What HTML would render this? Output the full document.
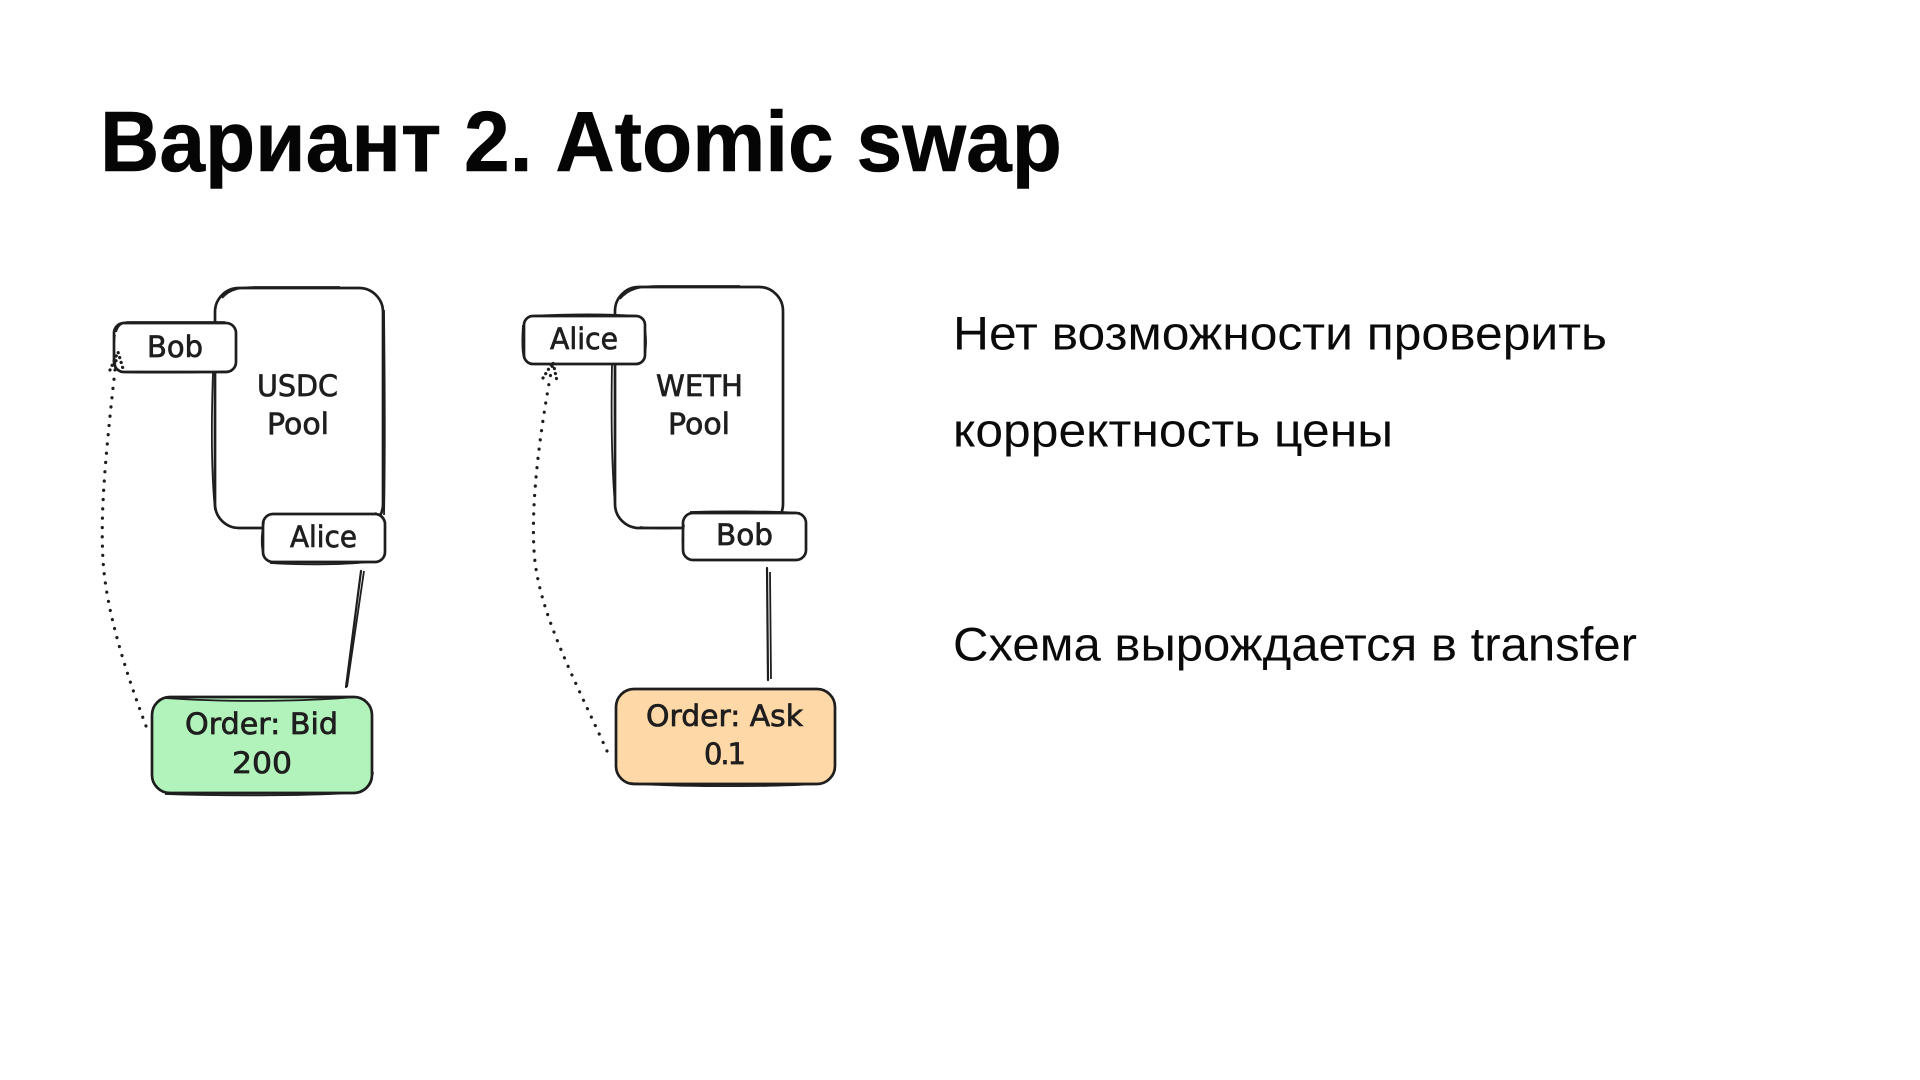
<!DOCTYPE html>
<html lang="ru"><head><meta charset="utf-8"><title>Вариант 2. Atomic swap</title>
<style>
html,body{margin:0;padding:0;background:#fff;width:1920px;height:1080px;overflow:hidden}
svg{display:block}
.h{font-family:"DejaVu Sans",sans-serif;font-size:29px;fill:#1e1e1e;stroke:#1e1e1e;stroke-width:.7}
.b{font-family:"Liberation Sans",sans-serif;font-size:47px;fill:#0a0a0a}
.s{fill:none;stroke:#1e1e1e;stroke-width:2.7;stroke-linecap:round}
.t{fill:none;stroke:#1e1e1e;stroke-width:1.8}
.d{fill:none;stroke:#1e1e1e;stroke-width:3.2;stroke-linecap:round;stroke-dasharray:.1 9.2}
</style></head><body>
<svg width="1920" height="1080" viewBox="0 0 1920 1080" xmlns="http://www.w3.org/2000/svg">
<rect width="1920" height="1080" fill="#fff"/>
<text x="100" y="171" font-family="'Liberation Sans',sans-serif" font-weight="700" font-size="85" fill="#050505" stroke="#050505" stroke-width=".6" textLength="962" lengthAdjust="spacingAndGlyphs">Вариант 2. Atomic swap</text>
<text class="b" x="953" y="349.5" textLength="654" lengthAdjust="spacingAndGlyphs">Нет возможности проверить</text>
<text class="b" x="953" y="446.5" textLength="440" lengthAdjust="spacingAndGlyphs">корректность цены</text>
<text class="b" x="953" y="660.5" textLength="684" lengthAdjust="spacingAndGlyphs">Схема вырождается в transfer</text>

<!-- USDC pool -->
<rect class="s" x="215" y="288" width="168" height="240" rx="24"/>
<path class="t" d="M213 372C211 430 212 480 215 510M384 310C385 400 385 470 384 515M222 298C230 289 240 287 260 287H340"/>
<text class="h" x="257" y="396" textLength="81" lengthAdjust="spacingAndGlyphs">USDC</text>
<text class="h" x="267" y="434" textLength="62" lengthAdjust="spacingAndGlyphs">Pool</text>

<!-- Bob left -->
<rect x="114" y="323" width="122" height="49" rx="10" fill="#fff" stroke="#1e1e1e" stroke-width="2.7"/>
<path class="t" d="M116 332C118 325 122 322 130 322H225M115 335C113 345 114 360 116 368M120 372C150 373 200 373 232 371"/>
<text class="h" x="147" y="357" textLength="56" lengthAdjust="spacingAndGlyphs">Bob</text>

<!-- Alice left -->
<rect x="263" y="514" width="122" height="48" rx="10" fill="#fff" stroke="#1e1e1e" stroke-width="2.7"/>
<path class="t" d="M264 522C261 535 261 548 264 556M270 563C300 565 340 565 368 562M375 513C380 515 384 518 385 524"/>
<text class="h" x="290" y="547" textLength="67" lengthAdjust="spacingAndGlyphs">Alice</text>

<!-- Bid connector -->
<path class="s" style="stroke-width:2.2" d="M361 571L346 687"/>
<path class="t" d="M364 571L347 687"/>
<path class="d" d="M146 726C125 670 106 610 103 560C100 510 106 450 117 352"/>
<path class="d" style="stroke-dasharray:.1 5" d="M110 370L118 352L124 372"/>

<!-- Bid -->
<rect x="152" y="697" width="220" height="96" rx="18" fill="#b2f2bb" stroke="#1e1e1e" stroke-width="2.7"/>
<path class="t" d="M165 698C220 702 300 702 355 697M165 794C220 796 300 796 350 793C365 793 371 785 373 772"/>
<text class="h" x="185" y="734" textLength="153" lengthAdjust="spacingAndGlyphs">Order: Bid</text>
<text class="h" x="232" y="773" textLength="60" lengthAdjust="spacingAndGlyphs">200</text>

<!-- WETH pool -->
<rect class="s" x="615" y="287" width="168" height="241" rx="24"/>
<path class="t" d="M612 364C611 420 612 470 615 505M620 299C628 289 640 286 660 286H740M640 527C655 529 670 529 690 527"/>
<text class="h" x="656" y="396" textLength="87" lengthAdjust="spacingAndGlyphs">WETH</text>
<text class="h" x="668" y="434" textLength="62" lengthAdjust="spacingAndGlyphs">Pool</text>

<!-- Alice right -->
<rect x="524" y="316" width="121" height="48" rx="9" fill="#fff" stroke="#1e1e1e" stroke-width="2.7"/>
<path class="t" d="M530 316C570 314 610 314 638 316M523 325C522 340 522 352 524 358C526 362 530 364 535 364M645 330C647 340 646 350 644 360C642 363 638 364 632 364"/>
<text class="h" x="550" y="349" textLength="68" lengthAdjust="spacingAndGlyphs">Alice</text>

<!-- Bob right -->
<rect x="683" y="513" width="123" height="47" rx="10" fill="#fff" stroke="#1e1e1e" stroke-width="2.7"/>
<path class="t" d="M690 512C720 511 770 511 800 513M684 525C682 535 682 545 684 555"/>
<text class="h" x="716" y="545" textLength="57" lengthAdjust="spacingAndGlyphs">Bob</text>

<!-- Ask connector -->
<path class="s" style="stroke-width:2.2" d="M767 568L768 680"/>
<path class="t" d="M770 572L771 679"/>
<path class="d" d="M607 751C575 680 537 610 534 550C531 500 540 430 553 362"/>
<path class="d" style="stroke-dasharray:.1 5" d="M543 378L553 362L557 381"/>

<!-- Ask -->
<rect x="616" y="689" width="219" height="95" rx="18" fill="#ffd8a8" stroke="#1e1e1e" stroke-width="2.7"/>
<path class="t" d="M630 783C670 787 770 787 815 784"/>
<text class="h" x="646" y="726" textLength="157" lengthAdjust="spacingAndGlyphs">Order: Ask</text>
<text class="h" x="704" y="764" textLength="42" lengthAdjust="spacing">0.1</text>
</svg>
</body></html>
